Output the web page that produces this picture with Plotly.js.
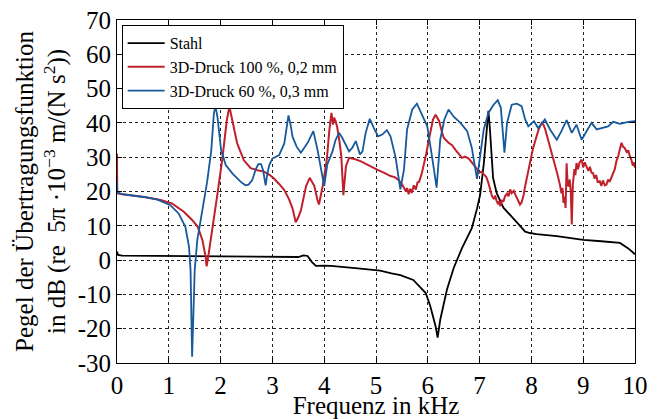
<!DOCTYPE html>
<html>
<head>
<meta charset="utf-8">
<script src="https://cdn.plot.ly/plotly-3.0.1.min.js"></script>
<style>html,body{margin:0;padding:0;background:#fff;}#chart{width:664px;height:419px;}</style>
</head>
<body>
<div id="chart"></div>
<script>
// Stahl (black)
const stahlF = [0,0.02,0.1,1.0,2.0,2.5,3.0,3.5,3.6,3.68,3.76,3.84,4.0,4.13,4.65,5.08,5.3,5.47,5.72,5.86,5.96,6.05,6.15,6.19,6.24,6.37,6.5,6.66,6.85,6.95,7.01,7.08,7.14,7.17,7.2,7.22,7.26,7.33,7.46,7.72,7.88,7.97,8.1,8.49,9.0,9.35,9.71,9.87,10.0];
const stahlDB = [2.5,1.5,1.3,1.2,1.1,0.9,0.9,0.9,1.4,1.2,-0.5,-1.7,-1.6,-1.7,-2.4,-3.1,-3.9,-4.4,-5.8,-7.9,-9.6,-13.5,-19.3,-22.6,-17.4,-8.6,-2.3,3.5,9.3,15,19,28,40,43.5,38,33,24,19.5,15.3,11,8.3,7.9,7.6,7.0,5.9,5.5,5.0,3.4,1.7];

// 3D-Druck 100 %, 0,2 mm (red)
const d100F = [0,0.005,0.1,0.52,0.84,1.06,1.29,1.45,1.56,1.65,1.71,1.73,1.77,1.84,1.94,2.03,2.12,2.17,2.23,2.32,2.45,2.58,2.71,2.84,2.95,3.03,3.13,3.23,3.32,3.39,3.45,3.5,3.55,3.65,3.72,3.81,3.87,3.9,3.97,4.05,4.1,4.14,4.17,4.19,4.22,4.25,4.29,4.33,4.36,4.37,4.4,4.42,4.48,4.6,4.71,4.85,5.03,5.15,5.28,5.36,5.44,5.5,5.54,5.58,5.6,5.63,5.66,5.69,5.73,5.77,5.8,5.83,5.88,5.92,5.97,6.02,6.1,6.15,6.22,6.27,6.31,6.4,6.47,6.53,6.6,6.66,6.72,6.79,6.88,6.95,6.98,7.04,7.08,7.13,7.17,7.2,7.24,7.28,7.3,7.33,7.36,7.38,7.4,7.43,7.46,7.49,7.53,7.56,7.59,7.62,7.66,7.69,7.73,7.78,7.81,7.85,7.88,7.93,7.97,8.03,8.1,8.15,8.2,8.23,8.26,8.31,8.36,8.41,8.46,8.5,8.55,8.58,8.6,8.62,8.64,8.66,8.68,8.7,8.72,8.74,8.76,8.78,8.8,8.83,8.85,8.87,8.9,8.93,8.97,9.0,9.03,9.06,9.1,9.13,9.16,9.19,9.22,9.25,9.28,9.32,9.35,9.38,9.42,9.45,9.48,9.51,9.54,9.58,9.61,9.64,9.68,9.71,9.74,9.77,9.8,9.84,9.87,9.9,9.93,9.96,9.98,10.0];
const d100DB = [31,19.5,19.2,18.4,17.5,16.5,14.1,11.7,9.7,5.8,1.0,-1.8,1.9,9.7,19.4,29.1,40.8,44.8,40.8,34,29.1,26.8,26.2,25.8,24.8,23.8,22.2,20.4,17.8,15.0,11.0,12.5,14.5,21.6,24.0,21.6,17.5,16.2,21.6,29.3,38,42.9,39.5,41.5,40.5,38.8,35.1,30.3,22,18.9,24,27.4,29.8,29.4,28.8,27.6,26.3,25.5,24.5,24.2,23.3,22.2,21.2,20.0,21.0,19.2,20.8,19.6,21.8,20.6,22.6,22.8,25,27.4,31,35.1,41,42.4,40.5,37.5,35.6,34.2,33.5,32.2,30.8,29.8,30.2,29.6,27.9,26.5,25.4,25.8,25.0,24.2,22.5,20.5,18.6,17.8,18.8,17.2,16.3,17.2,15.7,17.5,17,18.6,19.4,18.6,20.6,19.5,20.2,19.1,18,16.2,16.8,19,21.6,25,28.3,32.5,36.1,38.5,40,39.5,38.5,35.8,32.7,30.5,27.9,25.2,22,19.5,21,16.7,18.5,15.2,28.2,22,21.5,23.5,20,10.4,22,26.5,24.8,28.3,26.5,28.5,29.3,27,28.5,27.4,26,27.2,25.5,25.4,23.8,24.8,22.8,23,21.6,23.2,21.8,22,23.5,22.8,24,25.8,26.5,28.8,30.5,32.5,34.2,33.0,32.7,31.5,32,30.3,29.2,27.5,28.5,26.9];

// 3D-Druck 60 %, 0,3 mm (blue)
const d60F = [0,0.005,0.1,0.52,0.77,1.03,1.19,1.32,1.39,1.42,1.45,1.47,1.5,1.55,1.65,1.74,1.82,1.87,1.9,1.94,2.01,2.1,2.23,2.39,2.48,2.54,2.61,2.68,2.73,2.78,2.82,2.85,2.87,2.9,2.94,3.0,3.13,3.23,3.28,3.31,3.35,3.39,3.47,3.55,3.68,3.79,3.87,3.95,4.0,4.06,4.16,4.22,4.29,4.35,4.48,4.54,4.61,4.69,4.74,4.8,4.88,4.96,5.04,5.12,5.21,5.28,5.38,5.47,5.54,5.6,5.7,5.79,5.89,5.99,6.08,6.17,6.24,6.32,6.4,6.5,6.63,6.76,6.85,6.95,7.01,7.08,7.17,7.27,7.35,7.41,7.48,7.53,7.62,7.72,7.81,7.88,7.94,8.05,8.13,8.26,8.36,8.49,8.58,8.68,8.78,8.87,8.97,9.06,9.16,9.26,9.38,9.48,9.58,9.71,9.87,10.0];
const d60DB = [22.8,19.8,19.2,18.4,17.7,16.0,13.6,9.7,3.9,-3,-28.2,-15,-3,5.8,14.6,22.8,32,42.7,44.9,41.7,32,27.7,25.2,22.8,21.8,22,23.3,26.5,28.0,28.0,26.2,23,21.8,25,27.7,29.6,30.6,34,39,42.2,39.5,35.9,33,31.3,34.2,37.6,32.2,25,21.6,27.9,31.7,35.1,37.1,35.6,31.7,32.7,34.7,30.8,31.7,37.1,41.2,38.5,36.1,36.6,37.9,36.1,29.8,20.6,26.4,38.1,43.9,45.6,42.4,39,30.3,21.1,35.1,41,43.9,41.8,40,37.6,32.7,23.7,30.3,38.1,42.9,45.3,46.6,44.4,31.3,40,45.3,45.6,44.9,41,39,40.5,38.5,41,38.1,35.1,37.6,40.8,37.1,39.5,35.1,37.6,40,38.1,38.5,39,40.3,39.7,40.3,40.5];

const seriesNames = ['Stahl', '3D-Druck 100 %, 0,2 mm', '3D-Druck 60 %, 0,3 mm'];
const seriesColors = ['#000000', '#c0202b', '#17599a'];

const xTicks = [0,1,2,3,4,5,6,7,8,9,10];
const yTicks = [-30,-20,-10,0,10,20,30,40,50,60,70];

const fontFam = 'Liberation Serif';

const traces = [
  {x: stahlF, y: stahlDB, name: seriesNames[0], mode: 'lines', line: {color: seriesColors[0], width: 1.8}},
  {x: d100F, y: d100DB, name: seriesNames[1], mode: 'lines', line: {color: seriesColors[1], width: 2}},
  {x: d60F, y: d60DB, name: seriesNames[2], mode: 'lines', line: {color: seriesColors[2], width: 1.8}}
];

function axisBase() {
  return {
    showline: true, linecolor: '#000', linewidth: 1, mirror: 'ticks',
    ticks: 'inside', ticklen: 5, tickwidth: 1, tickcolor: '#000',
    showgrid: true, gridcolor: '#222', gridwidth: 1, griddash: 'dot',
    zeroline: false,
    tickfont: {family: fontFam, size: 25, color: '#000'}
  };
}

const xa = axisBase();
xa.range = [0, 10];
xa.tickmode = 'array';
xa.tickvals = xTicks;
xa.ticktext = xTicks.map(String);
xa.title = {text: 'Frequenz in kHz', font: {family: fontFam, size: 25, color: '#000'}, standoff: 0};

const ya = axisBase();
ya.range = [-30, 70];
ya.tickmode = 'array';
ya.tickvals = yTicks;
ya.ticktext = yTicks.map(String);
ya.title = {text: 'Pegel der Übertragungsfunktion<br>in dB (re  5π ·10<sup>−3</sup> m/(N s<sup>2</sup>))', font: {family: fontFam, size: 25, color: '#000'}, standoff: 4};

const layout = {
  width: 664, height: 419,
  margin: {l: 117, r: 29, t: 20, b: 56},
  paper_bgcolor: '#fff', plot_bgcolor: '#fff',
  font: {family: fontFam, color: '#000', size: 16},
  showlegend: true,
  legend: {
    x: 0.009, y: 0.985, xanchor: 'left', yanchor: 'top',
    bgcolor: '#fff', bordercolor: '#000', borderwidth: 1,
    font: {family: fontFam, size: 16, color: '#000'},
    itemwidth: 37,
    tracegroupgap: 0
  },
  xaxis: xa,
  yaxis: ya
};

Plotly.newPlot('chart', traces, layout, {displayModeBar: false, staticPlot: true});
</script>
</body>
</html>
